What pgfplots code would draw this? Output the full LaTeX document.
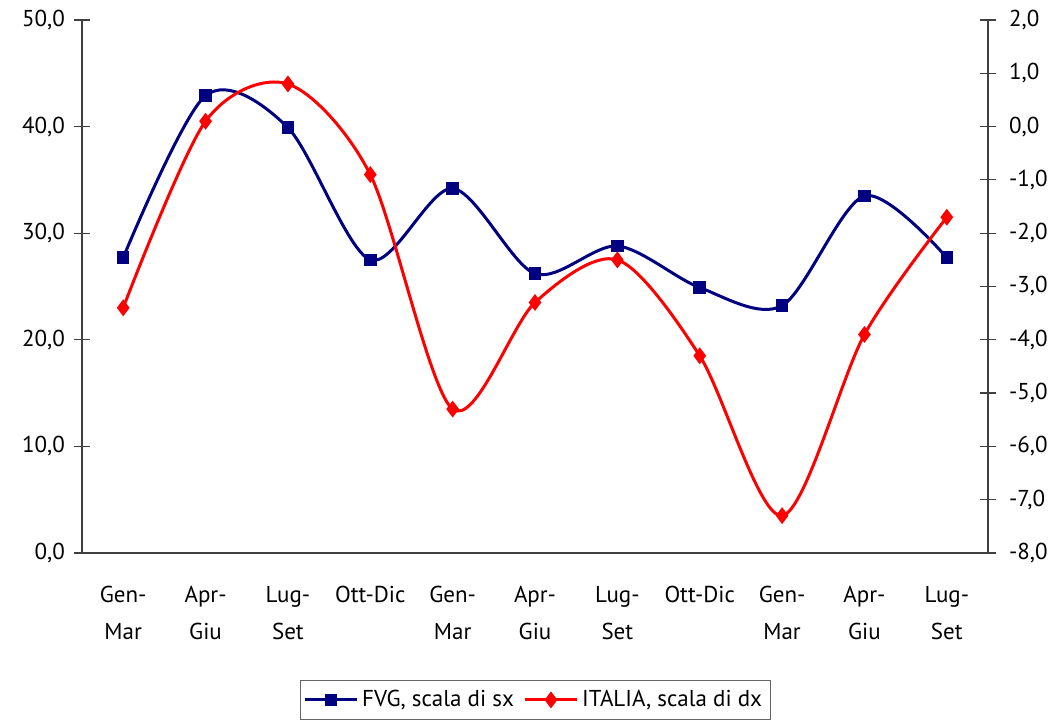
\documentclass[border=0pt]{standalone}
\usepackage{pgfplots}
\pgfplotsset{compat=1.18}
\usepackage{fontspec}
\setmainfont{PT Sans}
\definecolor{fvg}{RGB}{0,0,128}
\definecolor{ita}{RGB}{255,0,0}

\pgfplotsset{
  base/.style={
    scale only axis, width=453pt, height=266.5pt,
    xmin=-0.5, xmax=10.5,
    at={(0,0)}, anchor=south west,
    axis line style={black!75, line width=0.6pt},
    every tick/.style={black!75, line width=0.6pt},
    tick label style={font=\fontsize{11.5}{13}\selectfont},
    /pgf/number format/.cd, fixed, fixed zerofill, precision=1, use comma,
    assume math mode=true,
  },
}

\begin{document}
\begin{tikzpicture}
\useasboundingbox (-41pt,-84pt) rectangle (486.5pt,276.5pt);
\begin{axis}[base,
    axis y line*=left, axis x line*=bottom,
    ymin=0, ymax=50, ytick={0,10,...,50},
    ytick align=center, major tick length=8pt,
    xtick={0,...,10},
    xticklabels={{Gen-\\Mar},{Apr-\\Giu},{Lug-\\Set},{Ott-Dic},{Gen-\\Mar},{Apr-\\Giu},{Lug-\\Set},{Ott-Dic},{Gen-\\Mar},{Apr-\\Giu},{Lug-\\Set}},
    xticklabel style={align=center, font=\fontsize{11.5}{18.5}\selectfont, yshift=-5pt},
    x tick style={draw=none},
    minor xtick={-0.5,0.5,...,10.5},
    minor x tick style={black!75, line width=0.6pt},
    xtick align=outside,
    minor tick length=5pt,
    yticklabel style={xshift=-1pt},
    legend image code/.code={
      \draw[mark repeat=2, mark phase=2, #1] plot coordinates {(0cm,0cm) (0.45cm,0cm) (0.9cm,0cm)};},
    legend style={at={(axis description cs:0.5,-0.238)}, anchor=north,
      legend columns=2, draw=black!60, font=\fontsize{11.5}{13}\selectfont,
      /tikz/every even column/.append style={column sep=3pt},
      inner xsep=2pt, inner ysep=3pt},
  ]
  \addplot[fvg, line width=1.5pt, smooth, mark=square*, mark size=2.4pt,
    mark options={solid}]
    coordinates {(0,27.7) (1,42.9) (2,39.9) (3,27.5) (4,34.2) (5,26.2) (6,28.8) (7,24.9) (8,23.2) (9,33.5) (10,27.7)};
  \addlegendentry{FVG, scala di sx}
  \addlegendimage{ita, line width=1.5pt, mark=diamond*, mark size=3pt}
  \addlegendentry{ITALIA, scala di dx}
\end{axis}
\begin{axis}[base,
    axis y line*=right, axis x line=none,
    ymin=-8, ymax=2, ytick={-8,-7,...,2},
    ytick align=center, major tick length=8pt,
    yticklabel style={xshift=3pt},
  ]
  \addplot[ita, line width=1.5pt, smooth, mark=diamond*, mark size=3pt]
    coordinates {(0,-3.4) (1,0.1) (2,0.8) (3,-0.9) (4,-5.3) (5,-3.3) (6,-2.5) (7,-4.3) (8,-7.3) (9,-3.9) (10,-1.7)};
\end{axis}
\end{tikzpicture}
\end{document}
